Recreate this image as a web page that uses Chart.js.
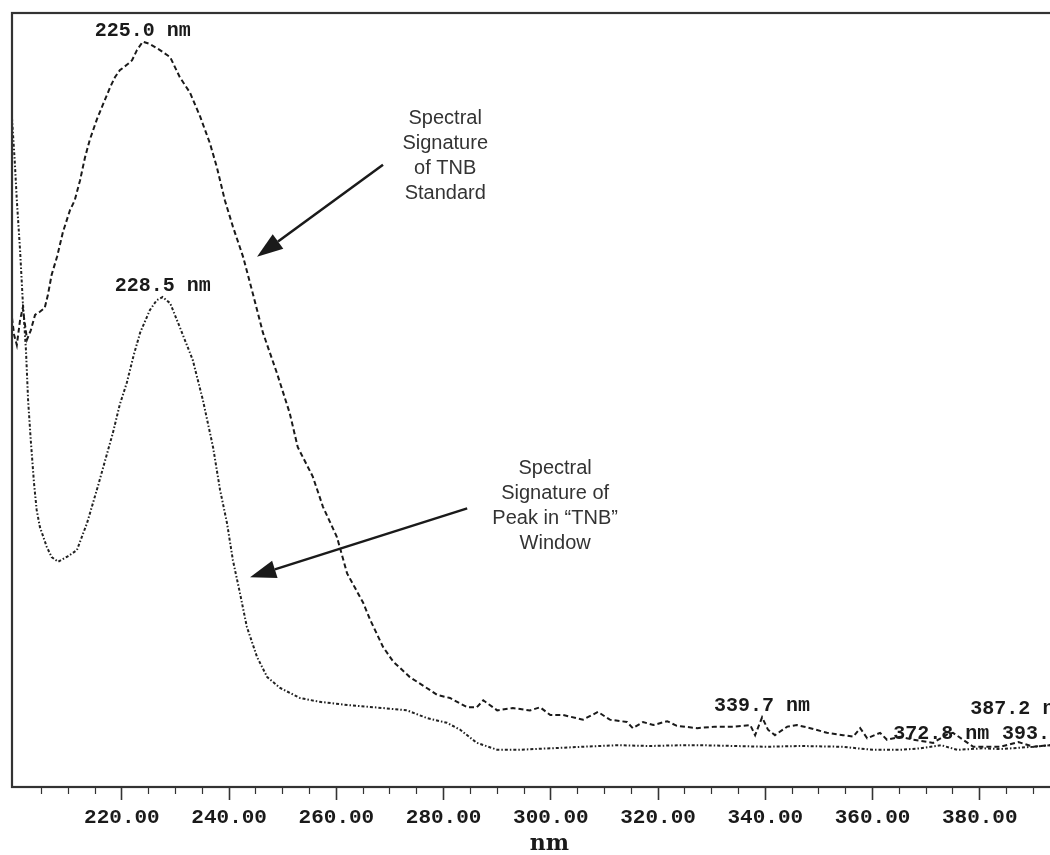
<!DOCTYPE html>
<html>
<head>
<meta charset="utf-8">
<script src="https://cdn.jsdelivr.net/npm/chart.js@4.4.1/dist/chart.umd.min.js"></script>
<style>
  html, body { margin: 0; padding: 0; background: #fff; overflow: hidden; }
  #wrap { width: 1100px; height: 855px; position: relative; }
</style>
</head>
<body>
<div id="wrap"><canvas id="chart"></canvas></div>
<script>
// spectrum of the TNB standard (dashed line)
const stdWl = [
  199.5, 199.9, 200.4, 201.0, 201.5, 202.3, 203.0, 203.8, 204.7, 205.6,
  206.2, 206.9, 207.9, 209.0, 210.3, 211.2, 212.2, 213.1, 214.0, 215.3,
  216.3, 217.8, 218.7, 219.6, 221.1, 221.9, 222.8, 223.9, 225.2, 227.1,
  229.0, 230.8, 232.7, 234.6, 236.4, 237.7, 239.2, 240.7, 242.6, 244.4,
  246.3, 248.9, 251.3, 252.8, 255.6, 257.5, 260.1, 262.0, 263.5, 265.0,
  266.3, 268.7, 270.6, 273.7, 277.5, 278.8, 281.2, 284.4, 286.2, 287.4,
  290.0, 292.9, 296.1, 298.0, 299.9, 302.3, 306.0, 308.8, 311.0, 314.2,
  315.3, 317.2, 319.1, 321.7, 323.5, 327.3, 330.6, 334.0, 337.2, 338.1,
  339.4, 340.5, 341.8, 344.1, 345.9, 348.4, 351.5, 354.5, 356.4, 357.7,
  359.0, 361.4, 362.7, 365.2, 367.6, 371.3, 373.9, 375.0, 376.9, 378.8,
  383.8, 387.2, 390.0, 393.1, 400.0
];
const stdAbs = [
  60.6, 58.4, 57.1, 60.3, 61.9, 57.8, 59.0, 61.0, 61.4, 61.9,
  63.6, 66.2, 68.5, 71.7, 74.5, 75.8, 78.4, 81.3, 83.6, 86.2,
  87.9, 90.4, 91.7, 92.6, 93.4, 93.9, 95.2, 96.3, 96.0, 95.2,
  94.3, 91.7, 89.7, 86.6, 83.2, 80.1, 75.8, 72.4, 68.5, 63.8,
  58.7, 53.5, 48.3, 43.9, 40.1, 36.2, 32.3, 27.6, 25.7, 23.8,
  21.6, 18.1, 16.2, 14.2, 12.5, 11.9, 11.5, 10.3, 10.3, 11.2,
  9.9, 10.2, 9.9, 10.3, 9.3, 9.3, 8.7, 9.7, 8.7, 8.4,
  7.6, 8.4, 8.0, 8.5, 7.9, 7.6, 7.8, 7.8, 8.0, 6.7,
  9.0, 7.4, 6.7, 7.8, 8.0, 7.6, 7.0, 6.7, 6.5, 7.6,
  6.3, 7.0, 6.1, 6.5, 6.1, 5.7, 6.8, 7.0, 6.1, 5.2,
  5.2, 5.8, 5.2, 5.4, 5.3
];

// spectrum of the peak in the "TNB" window (dotted line)
const winWl = [
  199.5, 199.7, 200.0, 200.4, 201.0, 201.5, 202.1, 202.5, 203.0, 203.6,
  204.1, 204.7, 206.0, 206.9, 208.1, 209.9, 211.6, 213.5, 215.5, 217.4,
  218.3, 219.6, 220.9, 222.2, 223.4, 225.2, 226.5, 227.6, 229.0, 230.8,
  233.2, 235.1, 237.0, 238.3, 239.6, 240.7, 242.0, 243.3, 245.2, 247.1,
  249.5, 253.2, 256.9, 262.0, 268.7, 273.2, 276.9, 280.6, 283.1, 286.2,
  290.0, 293.7, 299.9, 306.0, 312.4, 318.5, 324.7, 327.8, 334.0, 340.3,
  346.5, 354.5, 357.1, 360.1, 365.2, 368.9, 372.8, 375.8, 380.6, 383.8,
  390.0, 393.1, 400.0
];
const winAbs = [
  86.4, 84.2, 81.0, 75.8, 69.4, 62.9, 56.5, 50.0, 44.8, 39.3,
  35.8, 33.6, 31.0, 29.7, 29.1, 29.8, 30.6, 34.1, 38.8, 43.5,
  45.7, 49.4, 52.2, 55.8, 58.7, 61.6, 62.9, 63.3, 62.5, 59.4,
  55.2, 50.0, 43.9, 38.4, 34.1, 29.3, 25.1, 20.7, 16.8, 14.2,
  12.8, 11.5, 11.0, 10.6, 10.2, 9.9, 8.9, 8.3, 7.4, 5.7,
  4.8, 4.8, 5.0, 5.2, 5.4, 5.3, 5.4, 5.4, 5.3, 5.2,
  5.3, 5.2, 5.0, 4.8, 4.8, 5.0, 5.4, 4.8, 5.0, 4.9,
  5.2, 5.4, 5.2
];

// x axis
const majorTicks = [220, 240, 260, 280, 300, 320, 340, 360, 380];
const tickLabels = ['220.00', '240.00', '260.00', '280.00', '300.00', '320.00', '340.00', '360.00', '380.00'];

// peak labels (0 = standard, 1 = window)
const peakNm = [225.0, 228.5, 339.7, 372.8, 387.2, 393.4];
const peakText = ['225.0 nm', '228.5 nm', '339.7 nm', '372.8 nm', '387.2 nm', '393.4 nm'];
const peakSeries = [0, 1, 0, 1, 0, 1];

// call-outs, anchored in (nm, absorbance)
const noteLines = [
  ['Spectral', 'Signature', 'of TNB', 'Standard'],
  ['Spectral', 'Signature of', 'Peak in \u201CTNB\u201D', 'Window']
];
const noteAt = [[280.3, 86.4], [300.8, 41.1]];
const arrowFrom = [[268.7, 80.4], [284.4, 36.0]];
const arrowTo = [[245.2, 68.5], [243.9, 27.1]];

const decorations = {
  id: 'decorations',
  afterDatasetsDraw(chart) {
    const { ctx, chartArea: a } = chart;
    const x = chart.scales.x, y = chart.scales.y;
    ctx.save();

    // box round the plot
    ctx.strokeStyle = '#333';
    ctx.lineWidth = 2.2;
    ctx.strokeRect(a.left, a.top, a.right - a.left, a.bottom - a.top);

    // peak labels, lifted when they would overlap
    ctx.font = 'bold 20px "Liberation Mono", monospace';
    ctx.fillStyle = '#1a1a1a';
    ctx.textAlign = 'center';
    ctx.textBaseline = 'middle';
    const placed = [];
    peakNm.forEach((nm, i) => {
      const wl = peakSeries[i] === 0 ? stdWl : winWl;
      const ab = peakSeries[i] === 0 ? stdAbs : winAbs;
      let best = -1;
      wl.forEach((w, j) => {
        if (Math.abs(w - nm) <= 3 && (best < 0 || ab[j] > ab[best])) best = j;
      });
      const px = x.getPixelForValue(wl[best]);
      let py = y.getPixelForValue(ab[best]) - 11;
      const w = ctx.measureText(peakText[i]).width;
      const hit = q => placed.some(r => Math.abs(r.x - px) < (r.w + w) / 2 && Math.abs(r.y - q) < 18);
      while (hit(py)) py -= 22;
      placed.push({ x: px, y: py, w: w });
      ctx.fillText(peakText[i], px, py);
    });

    // call-out texts
    ctx.font = '20px "Liberation Sans", Arial, sans-serif';
    ctx.fillStyle = '#333';
    noteLines.forEach((lines, i) => {
      const cx = x.getPixelForValue(noteAt[i][0]);
      const cy = y.getPixelForValue(noteAt[i][1]);
      lines.forEach((t, k) => ctx.fillText(t, cx, cy + k * 25));
    });

    // arrows
    ctx.strokeStyle = '#1a1a1a';
    ctx.fillStyle = '#1a1a1a';
    arrowFrom.forEach((f, i) => {
      const x0 = x.getPixelForValue(f[0]), y0 = y.getPixelForValue(f[1]);
      const x1 = x.getPixelForValue(arrowTo[i][0]), y1 = y.getPixelForValue(arrowTo[i][1]);
      const ang = Math.atan2(y1 - y0, x1 - x0);
      const L = 26, W = 9;
      const bx = x1 - L * Math.cos(ang), by = y1 - L * Math.sin(ang);
      ctx.lineWidth = 2.5;
      ctx.beginPath();
      ctx.moveTo(x0, y0);
      ctx.lineTo(bx, by);
      ctx.stroke();
      ctx.beginPath();
      ctx.moveTo(x1, y1);
      ctx.lineTo(bx - W * Math.sin(ang), by + W * Math.cos(ang));
      ctx.lineTo(bx + W * Math.sin(ang), by - W * Math.cos(ang));
      ctx.closePath();
      ctx.fill();
    });
    ctx.restore();
  }
};

new Chart(document.getElementById('chart'), {
  type: 'line',
  data: {
    datasets: [{
      label: 'TNB Standard',
      data: stdWl.map((w, i) => ({ x: w, y: stdAbs[i] })),
      borderColor: '#1a1a1a',
      borderWidth: 2,
      borderDash: [5, 3],
      pointRadius: 0,
      tension: 0
    }, {
      label: 'Peak in TNB window',
      data: winWl.map((w, i) => ({ x: w, y: winAbs[i] })),
      borderColor: '#222',
      borderWidth: 2,
      borderDash: [3, 2, 1.5, 2],
      pointRadius: 0,
      tension: 0
    }]
  },
  options: {
    responsive: true,
    maintainAspectRatio: false,
    animation: false,
    layout: { padding: { left: 12, top: 13, right: 13, bottom: 0 } },
    plugins: { legend: { display: false }, tooltip: { enabled: false } },
    scales: {
      x: {
        type: 'linear',
        min: 199.5,
        max: 400,
        afterBuildTicks: s => {
          const t = [];
          for (let v = 205; v <= 400; v += 5) t.push({ value: v });
          s.ticks = t;
        },
        afterFit: s => { s.height = 68; },
        ticks: {
          autoSkip: false,
          maxRotation: 0,
          padding: 5,
          color: '#1a1a1a',
          font: { family: '"Liberation Mono", monospace', size: 21, weight: 'bold' },
          callback: v => {
            const k = majorTicks.indexOf(v);
            return k < 0 ? '' : tickLabels[k];
          }
        },
        grid: {
          drawOnChartArea: false,
          tickLength: 13,
          tickColor: '#333',
          tickWidth: c => (c.tick && majorTicks.includes(c.tick.value)) ? 1.6 : 1.2,
          tickBorderDash: c => (c.tick && majorTicks.includes(c.tick.value)) ? [] : [7, 30]
        },
        border: { display: false },
        title: {
          display: true,
          text: 'nm',
          color: '#1a1a1a',
          font: { family: '"DejaVu Serif", serif', size: 22, weight: 'bold', lineHeight: 1 },
          padding: { top: 0, bottom: 0 }
        }
      },
      y: { display: false, min: 0, max: 100 }
    }
  },
  plugins: [decorations]
});
</script>
</body>
</html>
